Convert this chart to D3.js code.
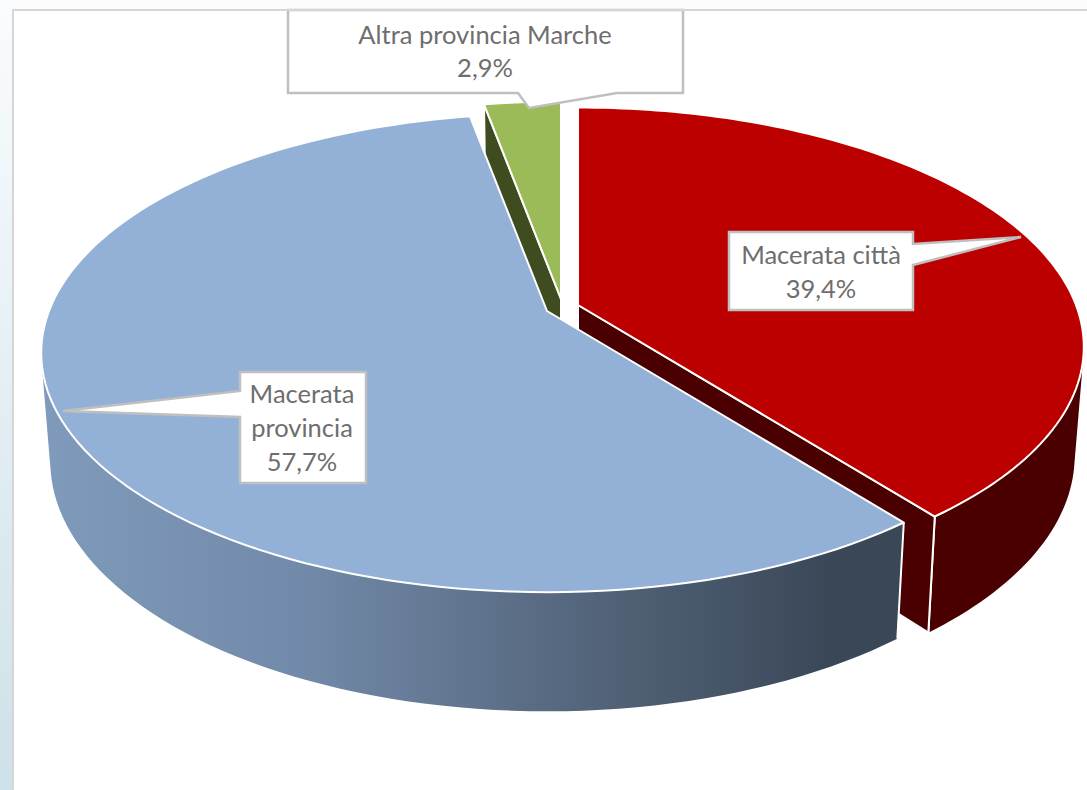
<!DOCTYPE html>
<html>
<head>
<meta charset="utf-8">
<script src="https://cdn.jsdelivr.net/npm/d3@7"></script>
<style>
  html, body { margin: 0; padding: 0; background: #fff; overflow: hidden; }
  svg { display: block; }
  text { font-family: Lato, "Open Sans", sans-serif; font-size: 25.5px; fill: #6e6e6e; text-anchor: middle; }
</style>
</head>
<body>
<div class="chart"></div>
<script>
var categories = ["Macerata città", "Macerata provincia", "Altra provincia Marche"];
var values = [39.4, 57.7, 2.9];
var topColors = ["#bc0000", "#93b0d6", "#9bbb59"];
var wallColors = ["#4a0000", "url(#blueWall)", "#3f4c20"];

var width = 1087;
var height = 790;

// where each exploded slice has its tip on the page
var tips = [[578, 305], [547, 311], [561, 299]];

// top and bottom plane of the pie, the bottom one is further from the eye
var topPlane = { a: 498, b: 232, k: 0.175, drop: 0 };
var bottomPlane = { a: 489, b: 242, k: 0.175, drop: 107 };

// callout boxes, pointer goes from the box side to the tip
var callouts = [
  { outline: [[729, 232], [913, 232], [913, 244], [1021, 237], [913, 265], [913, 310], [729, 310]],
    x: 821, lines: ["Macerata città"], baseline: 264, gap: 34 },
  { outline: [[240, 372], [366, 372], [366, 483], [240, 483], [240, 417], [63, 411], [240, 391]],
    x: 302, lines: ["Macerata", "provincia"], baseline: 403, gap: 34 },
  { outline: [[288, 10], [683, 10], [683, 93], [617, 93], [529, 108], [518, 93], [288, 93]],
    x: 485, lines: ["Altra provincia Marche"], baseline: 44, gap: 33 }
];

var fmtPct = d3.formatLocale({ decimal: ",", thousands: ".", grouping: [3], currency: ["", "€"] }).format(".1f");

var svg = d3.select("div.chart").append("svg")
  .attr("width", width)
  .attr("height", height);

var defs = svg.append("defs");

var pageGrad = defs.append("linearGradient")
  .attr("id", "page")
  .attr("x1", 0).attr("y1", 0).attr("x2", 0).attr("y2", 1);
pageGrad.append("stop").attr("offset", 0).attr("stop-color", "#fafcfe");
pageGrad.append("stop").attr("offset", 1).attr("stop-color", "#cde1e8");

var wallGrad = defs.append("linearGradient")
  .attr("id", "blueWall")
  .attr("gradientUnits", "userSpaceOnUse")
  .attr("x1", 45).attr("y1", 0).attr("x2", 900).attr("y2", 0);
wallGrad.append("stop").attr("offset", 0).attr("stop-color", "#7f9aba");
wallGrad.append("stop").attr("offset", 0.3).attr("stop-color", "#728aa9");
wallGrad.append("stop").attr("offset", 0.6).attr("stop-color", "#576980");
wallGrad.append("stop").attr("offset", 0.92).attr("stop-color", "#3a4757");
wallGrad.append("stop").attr("offset", 1).attr("stop-color", "#3a4757");

// page behind the chart
svg.append("rect").attr("width", width).attr("height", height).attr("fill", "#fafcfe");
svg.append("rect").attr("width", 13).attr("height", height).attr("fill", "url(#page)");
svg.append("rect").attr("x", 13).attr("y", 10).attr("width", width - 13).attr("height", height - 10).attr("fill", "#fff");

var pie = d3.pie().sort(null).value(d => d);
var slices = pie(values);

function project(i, angle, plane) {
  var x = Math.sin(angle);
  var y = Math.cos(angle);
  var w = 1 + plane.k * y;
  return [
    tips[i][0] + plane.a * x / w,
    tips[i][1] + plane.drop - plane.b * y / w
  ];
}

function arcPoints(i, start, end, plane) {
  return d3.range(0, 121).map(n => project(i, start + (end - start) * n / 120, plane));
}

function tipPoint(i, plane) {
  return [tips[i][0], tips[i][1] + plane.drop];
}

var line = d3.line();

function topFace(d, i) {
  return line([tipPoint(i, topPlane)].concat(arcPoints(i, d.startAngle, d.endAngle, topPlane))) + "Z";
}

// the wall is a strip of quads, all wound the same way so they fill as one
function outerWall(d, i) {
  var upper = arcPoints(i, d.startAngle, d.endAngle, topPlane);
  var lower = arcPoints(i, d.startAngle, d.endAngle, bottomPlane);
  return d3.range(0, 120).map(function(n) {
    var quad = [upper[n], upper[n + 1], lower[n + 1], lower[n]];
    if (d3.polygonArea(quad) < 0) quad.reverse();
    return line(quad) + "Z";
  }).join("");
}

function cutWall(i, angle) {
  return line([
    tipPoint(i, topPlane),
    project(i, angle, topPlane),
    project(i, angle, bottomPlane),
    tipPoint(i, bottomPlane)
  ]) + "Z";
}

// back to front: red, then green, then the blue slice on top of both
[0, 2, 1].forEach(function(i) {
  var d = slices[i];
  var g = svg.append("g").attr("class", "slice slice" + i);

  g.append("path")
    .attr("d", outerWall(d, i))
    .attr("fill", wallColors[i]);

  // white edge where the wall ends at the front
  if (i !== 2) {
    g.append("path")
      .attr("d", line([project(i, d.startAngle, topPlane), project(i, d.startAngle, bottomPlane)]))
      .attr("stroke", "#fff").attr("stroke-width", 2);
    g.append("path")
      .attr("d", line([project(i, d.endAngle, topPlane), project(i, d.endAngle, bottomPlane)]))
      .attr("stroke", "#fff").attr("stroke-width", 2);
  }

  if (i === 0) {
    g.append("path").attr("d", cutWall(i, d.endAngle))
      .attr("fill", wallColors[i]).attr("stroke", "#fff").attr("stroke-width", 2);
  }
  if (i === 2) {
    g.append("path").attr("d", cutWall(i, d.startAngle))
      .attr("fill", wallColors[i]).attr("stroke", "#fff").attr("stroke-width", 2);
  }

  g.append("path")
    .attr("d", topFace(d, i))
    .attr("fill", topColors[i])
    .attr("stroke", "#fff")
    .attr("stroke-width", 2)
    .attr("stroke-linejoin", "round");
});

// callouts
var labels = svg.append("g").attr("class", "labels")
  .selectAll("g")
  .data(callouts)
  .enter()
  .append("g");

labels.append("path")
  .attr("d", d => line(d.outline) + "Z")
  .attr("fill", "#fff")
  .attr("stroke", "#bfbfbf")
  .attr("stroke-width", 2.5);

labels.each(function(c, i) {
  var rows = c.lines.concat([fmtPct(values[i]) + "%"]);
  d3.select(this).selectAll("text")
    .data(rows)
    .enter()
    .append("text")
    .attr("x", c.x)
    .attr("y", (d, n) => c.baseline + n * c.gap)
    .text(d => d);
});

// chart frame, only top and left show
svg.append("path")
  .attr("d", line([[13, height], [13, 10], [width, 10]]))
  .attr("fill", "none")
  .attr("stroke", "#d6d6d6")
  .attr("stroke-width", 2);
</script>
</body>
</html>
